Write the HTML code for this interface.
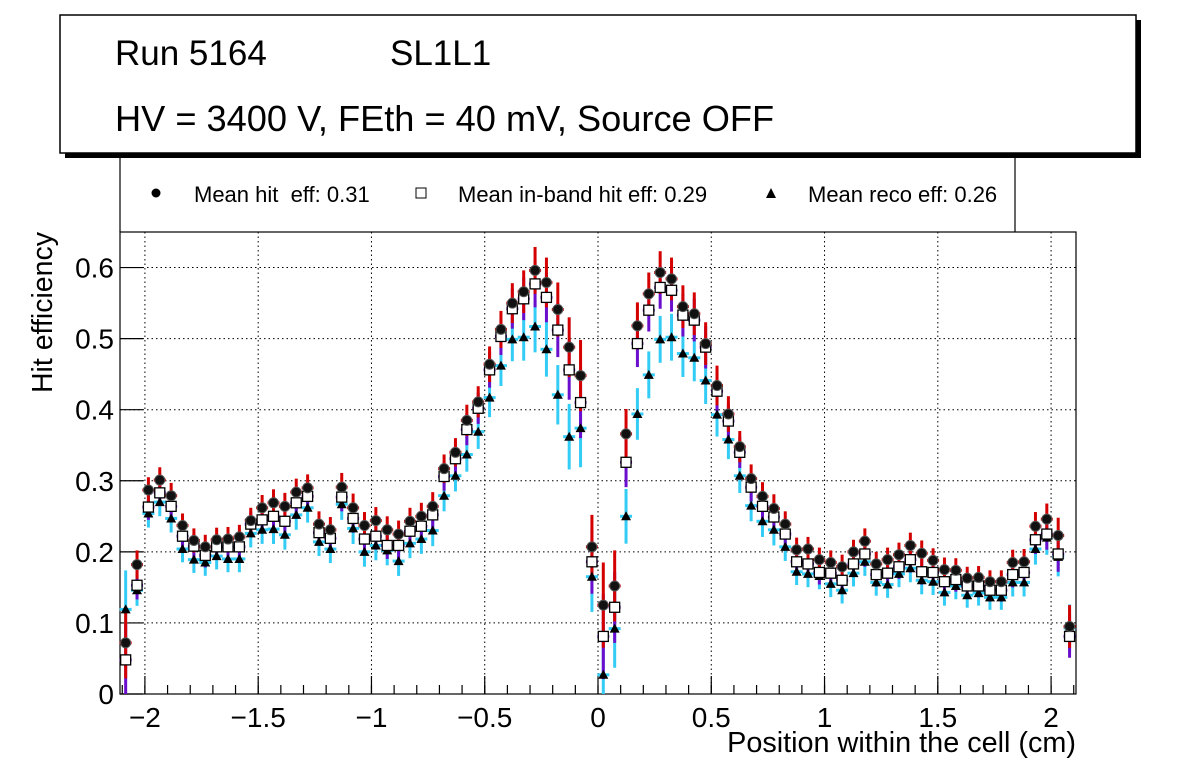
<!DOCTYPE html>
<html><head><meta charset="utf-8"><style>
html,body{margin:0;padding:0;background:#fff;width:1196px;height:772px;overflow:hidden}
svg{display:block;font-family:"Liberation Sans",Arial,sans-serif}
text{white-space:pre}
</style></head><body>
<svg id="chart" width="1196" height="772" viewBox="0 0 1196 772" xmlns="http://www.w3.org/2000/svg">
<g>
<rect x="65" y="20" width="1076" height="138" fill="#000"/>
<rect x="60" y="15" width="1076" height="138" fill="#fff" stroke="#000" stroke-width="1.5"/>
<text x="115" y="65" font-size="35">Run 5164</text>
<text x="390" y="65" font-size="35">SL1L1</text>
<text x="115" y="131" font-size="36.2">HV = 3400 V, FEth = 40 mV, Source OFF</text>
</g>
<g>
<path d="M120 157 V232 M1015 157 V232" stroke="#000" stroke-width="1.2"/>
<g><circle cx="156" cy="193" r="4.5" fill="#000"/><text x="194" y="202" font-size="22">Mean hit  eff: 0.31</text></g>
<g><rect x="416" y="188" width="10" height="10" fill="#fff" stroke="#000"/><text x="458" y="202" font-size="22">Mean in-band hit eff: 0.29</text></g>
<g><path d="M766 198 L771 188 L776 198 Z" fill="#000"/><text x="808" y="202" font-size="22">Mean reco eff: 0.26</text></g>
</g>
<g id="grid"></g>
<g id="axes"></g>
<g id="series"></g>
<text x="1076" y="752" font-size="28.8" text-anchor="end">Position within the cell (cm)</text>
<text transform="translate(52,232) rotate(-90)" font-size="28.5" text-anchor="end">Hit efficiency</text>
</svg>
<script>
const xStart = -2.085, binWidth = 0.0502;
const hitEff = [0.072,0.182,0.287,0.301,0.279,0.237,0.216,0.207,0.217,0.218,0.221,0.244,0.262,0.269,0.264,0.284,0.290,0.239,0.231,0.291,0.262,0.237,0.244,0.231,0.225,0.243,0.250,0.264,0.317,0.340,0.385,0.411,0.464,0.513,0.550,0.566,0.596,0.579,0.541,0.488,0.448,0.207,0.125,0.152,0.366,0.518,0.563,0.593,0.584,0.545,0.535,0.493,0.434,0.394,0.348,0.303,0.278,0.261,0.239,0.203,0.204,0.189,0.185,0.179,0.200,0.215,0.183,0.189,0.196,0.209,0.198,0.188,0.175,0.174,0.163,0.164,0.158,0.158,0.185,0.186,0.236,0.246,0.223,0.095];
const inbandEff = [0.048,0.153,0.263,0.283,0.264,0.222,0.208,0.195,0.207,0.207,0.207,0.239,0.245,0.250,0.243,0.269,0.278,0.227,0.219,0.277,0.247,0.218,0.222,0.209,0.209,0.229,0.236,0.252,0.306,0.331,0.372,0.402,0.456,0.503,0.542,0.556,0.577,0.558,0.512,0.456,0.410,0.186,0.081,0.122,0.326,0.493,0.540,0.572,0.568,0.533,0.526,0.488,0.426,0.384,0.340,0.291,0.264,0.249,0.225,0.186,0.183,0.171,0.170,0.160,0.183,0.197,0.168,0.170,0.179,0.189,0.172,0.171,0.158,0.161,0.152,0.152,0.146,0.146,0.168,0.171,0.217,0.225,0.197,0.081];
const recoEff = [0.119,0.146,0.254,0.270,0.247,0.204,0.189,0.185,0.194,0.190,0.190,0.226,0.231,0.232,0.224,0.252,0.262,0.214,0.204,0.267,0.233,0.200,0.209,0.202,0.187,0.212,0.218,0.230,0.279,0.307,0.337,0.369,0.417,0.462,0.499,0.502,0.517,0.485,0.421,0.362,0.374,0.165,0.027,0.092,0.250,0.394,0.449,0.499,0.502,0.479,0.473,0.441,0.393,0.358,0.307,0.265,0.243,0.231,0.207,0.172,0.169,0.166,0.155,0.146,0.170,0.186,0.157,0.154,0.169,0.177,0.160,0.158,0.143,0.152,0.139,0.142,0.136,0.136,0.157,0.157,0.204,0.220,0.193,0.093];
const errHit = [0.05,0.02,0.018,0.018,0.018,0.017,0.017,0.017,0.017,0.017,0.017,0.018,0.018,0.019,0.019,0.019,0.019,0.018,0.018,0.02,0.02,0.019,0.019,0.019,0.019,0.019,0.019,0.02,0.02,0.02,0.022,0.022,0.025,0.026,0.028,0.03,0.033,0.035,0.038,0.042,0.05,0.045,0.06,0.05,0.035,0.033,0.03,0.03,0.03,0.03,0.03,0.03,0.028,0.025,0.022,0.02,0.02,0.02,0.018,0.017,0.017,0.017,0.017,0.017,0.017,0.018,0.017,0.017,0.017,0.018,0.018,0.017,0.017,0.017,0.016,0.016,0.016,0.016,0.018,0.018,0.02,0.022,0.025,0.03];
const xTicks = [-2,-1.5,-1,-0.5,0,0.5,1,1.5,2];
const xTickLabels = ["\u22122","\u22121.5","\u22121","\u22120.5","0","0.5","1","1.5","2"];
const yTicks = [0,0.1,0.2,0.3,0.4,0.5,0.6];
const yTickLabels = ["0","0.1","0.2","0.3","0.4","0.5","0.6"];

const L=120,R=1076,T=232,B=694, X0=-2.11,X1=2.11, Y0=0,Y1=0.65;
const sx=v=>L+(v-X0)/(X1-X0)*(R-L);
const sy=v=>B-(v-Y0)/(Y1-Y0)*(B-T);
const NS="http://www.w3.org/2000/svg";
function mk(tag,attrs,parent){const e=document.createElementNS(NS,tag);for(const k in attrs)e.setAttribute(k,attrs[k]);parent.appendChild(e);return e;}
const grid=document.getElementById('grid'),axes=document.getElementById('axes'),ser=document.getElementById('series');

xTicks.forEach((t,i)=>{
  const g=mk('line',{x1:sx(t),x2:sx(t),y1:T,y2:B,stroke:'#000','stroke-width':1,'stroke-dasharray':'1.5,3'},grid);
  
  
  mk('line',{x1:sx(t),x2:sx(t),y1:B,y2:B-18,stroke:'#000','stroke-width':1.2},axes);
  const tx=mk('text',{x:sx(t),y:727,'font-size':28,'text-anchor':'middle'},axes);
  tx.textContent=xTickLabels[i];
  
  
});
for(let v=-2.1;v<=2.1001;v+=0.1){
  mk('line',{x1:sx(v),x2:sx(v),y1:B,y2:B-9,stroke:'#000','stroke-width':1.2},axes);
}
yTicks.forEach((t,i)=>{
  if(t>0){
    const g=mk('line',{x1:L,x2:R,y1:sy(t),y2:sy(t),stroke:'#000','stroke-width':1,'stroke-dasharray':'1.5,3'},grid);
    
    
  }
  mk('line',{x1:L,x2:L+23,y1:sy(t),y2:sy(t),stroke:'#000','stroke-width':1.2},axes);
  const tx=mk('text',{x:114,y:sy(t)+10,'font-size':28,'text-anchor':'end'},axes);
  tx.textContent=yTickLabels[i];
  
  
});
mk('rect',{x:L,y:T,width:R-L,height:B-T,fill:'none',stroke:'#000','stroke-width':1.2},axes);

function xc(i){return sx(xStart+i*binWidth);}
recoEff.forEach((v,i)=>{
  const x=xc(i),e=errHit[i]*1.1;
  const g=mk('g',{},ser);
  
  
  mk('line',{x1:x,x2:x,y1:sy(Math.max(0,v-e)),y2:sy(v+e),stroke:'#33ccf5','stroke-width':3},g);
  mk('line',{x1:x-6,x2:x+6,y1:sy(v),y2:sy(v),stroke:'#33ccf5','stroke-width':3},g);
});
inbandEff.forEach((v,i)=>{
  const x=xc(i),e=errHit[i];
  const g=mk('g',{},ser);
  
  
  mk('line',{x1:x,x2:x,y1:sy(Math.max(0,v-e)),y2:sy(v+e),stroke:'#6a0dcc','stroke-width':3},g);
  mk('line',{x1:x-6,x2:x+6,y1:sy(v),y2:sy(v),stroke:'#6a0dcc','stroke-width':3},g);
});
hitEff.forEach((v,i)=>{
  const x=xc(i),e=errHit[i];
  const g=mk('g',{},ser);
  
  
  mk('line',{x1:x,x2:x,y1:sy(v-e),y2:sy(v+e),stroke:'#d40000','stroke-width':3},g);
  mk('line',{x1:x-6,x2:x+6,y1:sy(v),y2:sy(v),stroke:'#d40000','stroke-width':3},g);
});
recoEff.forEach((v,i)=>{
  const x=xc(i),y=sy(v);
  const p=mk('path',{d:`M${x-5} ${y+4} L${x} ${y-5} L${x+5} ${y+4} Z`,fill:'#000'},ser);
  
  
});
inbandEff.forEach((v,i)=>{
  const x=xc(i),y=sy(v);
  const p=mk('rect',{x:x-5,y:y-5,width:10,height:10,fill:'#fff',stroke:'#000','stroke-width':1.3},ser);
  
  
});
hitEff.forEach((v,i)=>{
  const x=xc(i),y=sy(v);
  const p=mk('circle',{cx:x,cy:y,r:5,fill:'#111',stroke:'#555','stroke-width':1},ser);
  
  
});
</script>
</body></html>
